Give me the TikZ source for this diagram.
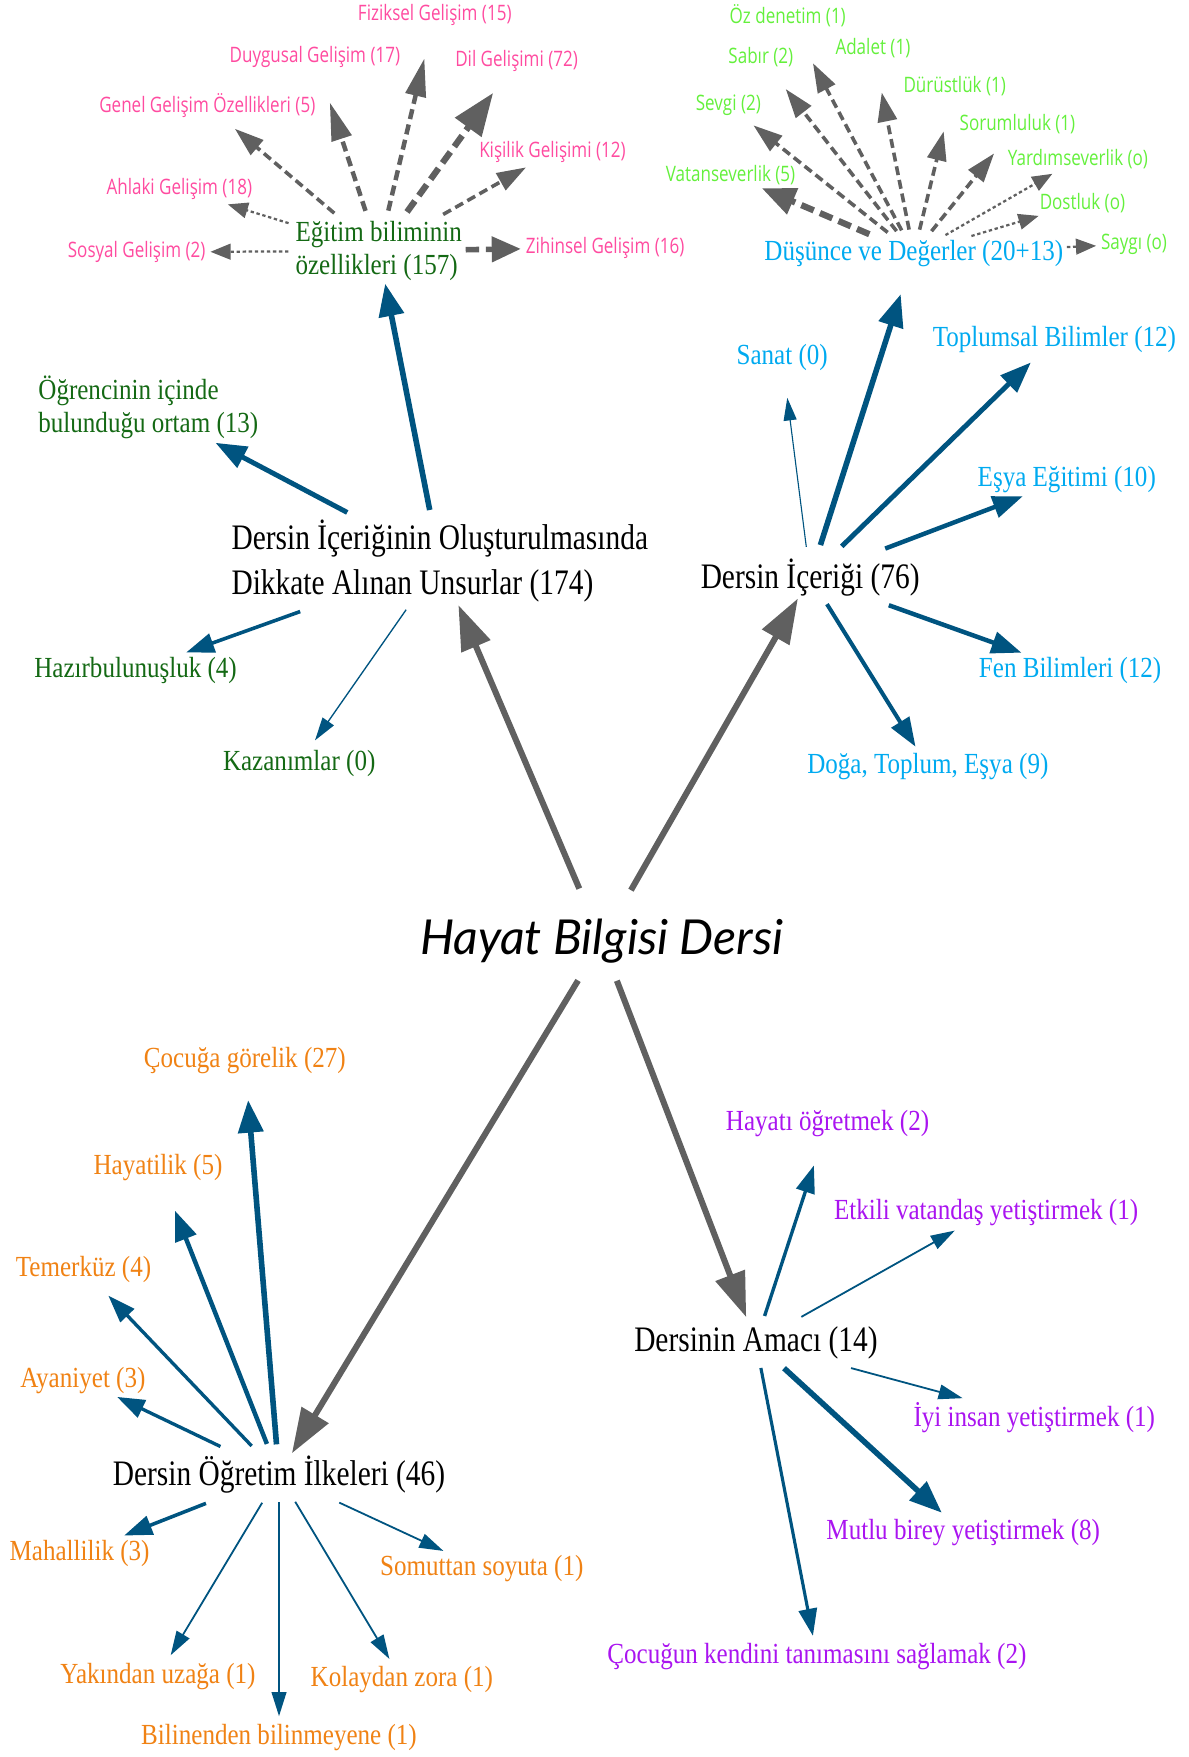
\documentclass[tikz,border=0pt]{standalone}
\usepackage{fontspec}
\setmainfont{Liberation Serif}
\newfontfamily\catfont{Liberation Serif}[FakeStretch=0.82]
\newfontfamily\leaffont{Liberation Serif}[FakeStretch=0.86]
\newfontfamily\twigfont{Open Sans}[FakeStretch=0.8]
\newfontfamily\hubfont{Lato}
\usetikzlibrary{arrows.meta}

\definecolor{hubgray}{RGB}{96,96,96}
\definecolor{linkblue}{RGB}{0,84,128}
\definecolor{unsurgreen}{RGB}{20,105,20}
\definecolor{gelisimpink}{RGB}{255,75,160}
\definecolor{degergreen}{RGB}{100,240,60}
\definecolor{icerikblue}{RGB}{0,170,240}
\definecolor{ilkeorange}{RGB}{240,130,20}
\definecolor{amacpurple}{RGB}{170,20,240}

\tikzset{
  hub/.style={font=\hubfont\itshape\fontsize{21.5}{26}\selectfont, inner sep=1pt},
  cat/.style={font=\catfont\fontsize{16}{20}\selectfont, inner sep=1pt, align=left},
  leaf/.style={font=\leaffont\fontsize{13}{15}\selectfont, inner sep=1pt, align=left, text=#1},
  twig/.style={font=\twigfont\fontsize{9.5}{11}\selectfont, inner sep=1pt, text=#1},
  hubarrow/.style={draw=hubgray, line width=2.7pt, -{Triangle[length=20pt,width=13.5pt]}},
  link/.style={draw=linkblue, line width=#1, -{Triangle[length=9pt 2.2,width=4.5pt 2.6]}, shorten <=3.5pt, shorten >=2pt},
  dbig/.style={draw=hubgray, line width=2.8pt, dash pattern=on 6pt off 3pt, -{Triangle[length=15pt,width=12pt]}, shorten <=3.5pt, shorten >=1pt},
  dmid/.style={draw=hubgray, line width=2pt, dash pattern=on 4.5pt off 2.5pt, -{Triangle[length=17pt,width=9pt]}, shorten <=3.5pt},
  dlow/.style={draw=hubgray, line width=1.6pt, dash pattern=on 4pt off 2.2pt, -{Triangle[length=13pt,width=8.5pt]}, shorten <=3.5pt},
  dthin/.style={draw=hubgray, line width=1pt, dash pattern=on 1.5pt off 1.2pt, -{Triangle[length=9pt,width=7pt]}, shorten <=2pt, shorten >=1pt}
}

\begin{document}
\begin{tikzpicture}[x=0.5pt,y=-0.5pt]
\useasboundingbox (0,0) rectangle (1061,1568);

\node[hub] (hub) at (537,840) {Hayat Bilgisi Dersi};
\node[cat] (unsur) at (392.5,501) {Dersin İçeriğinin Oluşturulmasında\\Dikkate Alınan Unsurlar (174)};
\node[cat] (icerik) at (723,515) {Dersin İçeriği (76)};
\node[cat] (ilke) at (249,1316) {Dersin Öğretim İlkeleri (46)};
\node[cat] (amac) at (674.6,1198) {Dersinin Amacı (14)};

\node[leaf=unsurgreen] (egitim) at (338,224) {Eğitim biliminin\\özellikleri (157)};
\node[leaf=unsurgreen] (ortam) at (132.4,363.5) {Öğrencinin içinde\\bulunduğu ortam (13)};
\node[leaf=unsurgreen] (hazir) at (121,598.5) {Hazırbulunuşluk (4)};
\node[leaf=unsurgreen] (kazanim) at (267,681) {Kazanımlar (0)};

\node[twig=gelisimpink] (fiziksel) at (388,13) {Fiziksel Gelişim (15)};
\node[twig=gelisimpink] (duygusal) at (281,51) {Duygusal Gelişim (17)};
\node[twig=gelisimpink] (dil) at (461,54) {Dil Gelişimi (72)};
\node[twig=gelisimpink] (genel) at (185,94) {Genel Gelişim Özellikleri (5)};
\node[twig=gelisimpink] (kisilik) at (493,136) {Kişilik Gelişimi (12)};
\node[twig=gelisimpink] (ahlaki) at (160,169) {Ahlaki Gelişim (18)};
\node[twig=gelisimpink] (sosyal) at (122,225) {Sosyal Gelişim (2)};
\node[twig=gelisimpink] (zihinsel) at (540,221) {Zihinsel Gelişim (16)};

\node[leaf=icerikblue] (dusunce) at (815.5,226) {Düşünce ve Değerler (20+13)};
\node[leaf=icerikblue] (sanat) at (698,319) {Sanat (0)};
\node[leaf=icerikblue] (toplumsal) at (941,303) {Toplumsal Bilimler (12)};
\node[leaf=icerikblue] (esya) at (952,428) {Eşya Eğitimi (10)};
\node[leaf=icerikblue] (fen) at (955,598) {Fen Bilimleri (12)};
\node[leaf=icerikblue] (doga) at (828,684) {Doğa, Toplum, Eşya (9)};

\node[twig=degergreen] (ozdenetim) at (703,14) {Öz denetim (1)};
\node[twig=degergreen] (sabir) at (679,51) {Sabır (2)};
\node[twig=degergreen] (adalet) at (779,43) {Adalet (1)};
\node[twig=degergreen] (durustluk) at (852,77) {Dürüstlük (1)};
\node[twig=degergreen] (sevgi) at (650,94) {Sevgi (2)};
\node[twig=degergreen] (sorumluluk) at (908,111) {Sorumluluk (1)};
\node[twig=degergreen] (yardim) at (962,142) {Yardımseverlik (o)};
\node[twig=degergreen] (vatan) at (652,156) {Vatanseverlik (5)};
\node[twig=degergreen] (dostluk) at (966,181) {Dostluk (o)};
\node[twig=degergreen] (saygi) at (1012,218) {Saygı (o)};

\node[leaf=ilkeorange] (cocuga) at (218.5,946) {Çocuğa görelik (27)};
\node[leaf=ilkeorange] (hayatilik) at (141,1042) {Hayatilik (5)};
\node[leaf=ilkeorange] (temerkuz) at (74.5,1133) {Temerküz (4)};
\node[leaf=ilkeorange] (ayaniyet) at (74,1232) {Ayaniyet (3)};
\node[leaf=ilkeorange] (mahallilik) at (71,1386) {Mahallilik (3)};
\node[leaf=ilkeorange] (yakindan) at (141,1496) {Yakından uzağa (1)};
\node[leaf=ilkeorange] (bilinenden) at (249,1551) {Bilinenden bilinmeyene (1)};
\node[leaf=ilkeorange] (kolaydan) at (358.6,1499) {Kolaydan zora (1)};
\node[leaf=ilkeorange] (somuttan) at (430,1400) {Somuttan soyuta (1)};

\node[leaf=amacpurple] (hayati) at (738.5,1003) {Hayatı öğretmek (2)};
\node[leaf=amacpurple] (etkili) at (880,1082.5) {Etkili vatandaş yetiştirmek (1)};
\node[leaf=amacpurple] (iyi) at (923,1265) {İyi insan yetiştirmek (1)};
\node[leaf=amacpurple] (mutlu) at (859.6,1367.5) {Mutlu birey yetiştirmek (8)};
\node[leaf=amacpurple] (kendini) at (729,1478) {Çocuğun kendini tanımasını sağlamak (2)};

\draw[hubarrow, shorten <=13.5pt] (hub) -- (unsur);
\draw[hubarrow, shorten <=13.5pt] (hub) -- (icerik);
\draw[hubarrow, shorten <=7.5pt] (hub) -- (ilke);
\draw[hubarrow, shorten <=7pt, shorten >=3pt] (hub) -- (amac);

\draw[link=2.5pt, shorten >=0pt] (unsur) -- (egitim);
\draw[link=2.2pt, shorten <=5pt, shorten >=1pt] (unsur) -- (ortam);
\draw[link=1.6pt, shorten <=8.5pt, shorten >=3pt] (unsur) -- (hazir);
\draw[link=0.6pt, shorten <=2.5pt, shorten >=3.7pt] (unsur) -- (kazanim);

\draw[dmid, shorten >=14pt] (egitim) -- (fiziksel);
\draw[dmid, shorten >=15pt] (egitim) -- (duygusal);
\draw[dbig, -{Triangle[length=19pt,width=14pt]}, shorten >=10.5pt] (egitim) -- (dil);
\draw[dlow, shorten >=6pt] (egitim) -- (genel);
\draw[dlow, shorten >=1.5pt] (egitim) -- (kisilik);
\draw[dthin, shorten >=2.5pt] (egitim) -- (ahlaki);
\draw[dthin] (egitim) -- (sosyal);
\draw[dbig, line width=2.5pt, -{Triangle[length=13pt,width=11pt]}, shorten <=0.5pt] (egitim) -- (zihinsel);

\draw[link=2.5pt, shorten <=5pt, shorten >=11.7pt] (icerik) -- (dusunce);
\draw[link=0.5pt, shorten <=4pt, shorten >=11pt] (icerik) -- (sanat);
\draw[link=2.2pt, shorten <=6pt, shorten >=4.5pt] (icerik) -- (toplumsal);
\draw[link=2pt, shorten <=9pt, shorten >=1pt] (icerik) -- (esya);
\draw[link=2pt, shorten <=9pt] (icerik) -- (fen);
\draw[link=1.8pt, shorten <=3pt] (icerik) -- (doga);

\draw[dlow, shorten >=17pt] (dusunce) -- (ozdenetim);
\draw[dlow, shorten >=11pt] (dusunce) -- (sabir);
\draw[dlow, shorten >=14.5pt] (dusunce) -- (adalet);
\draw[dlow, shorten >=15pt] (dusunce) -- (durustluk);
\draw[dlow, shorten >=5pt] (dusunce) -- (sevgi);
\draw[dlow, shorten >=9.5pt] (dusunce) -- (sorumluluk);
\draw[dthin, shorten >=2pt] (dusunce) -- (yardim);
\draw[dbig] (dusunce) -- (vatan);
\draw[dthin] (dusunce) -- (dostluk);
\draw[dthin, shorten <=0.5pt] (dusunce) -- (saygi);

\draw[link=2.5pt, shorten <=4pt, shorten >=10.8pt] (ilke) -- (cocuga);
\draw[link=2pt, shorten <=4.5pt, shorten >=13pt] (ilke) -- (hayatilik);
\draw[link=1.5pt, shorten <=4.5pt, shorten >=6.3pt] (ilke) -- (temerkuz);
\draw[link=1.5pt, shorten <=7pt, shorten >=0.5pt] (ilke) -- (ayaniyet);
\draw[link=1.6pt, shorten <=9pt] (ilke) -- (mahallilik);
\draw[link=0.8pt, shorten >=2.7pt] (ilke) -- (yakindan);
\draw[link=0.8pt, shorten <=2.7pt, shorten >=2.6pt] (ilke) -- (bilinenden);
\draw[link=0.8pt, shorten <=3pt, shorten >=2.5pt] (ilke) -- (kolaydan);
\draw[link=0.8pt, shorten <=7pt] (ilke) -- (somuttan);

\draw[link=1.5pt, shorten >=12pt] (amac) -- (hayati);
\draw[link=0.8pt, shorten <=6pt, shorten >=1.5pt] (amac) -- (etkili);
\draw[link=0.8pt, shorten <=11.5pt, shorten >=2.5pt] (amac) -- (iyi);
\draw[link=2.5pt, shorten <=4.5pt, shorten >=2.4pt] (amac) -- (mutlu);
\draw[link=1.4pt, shorten <=3pt] (amac) -- (kendini);

\end{tikzpicture}
\end{document}
